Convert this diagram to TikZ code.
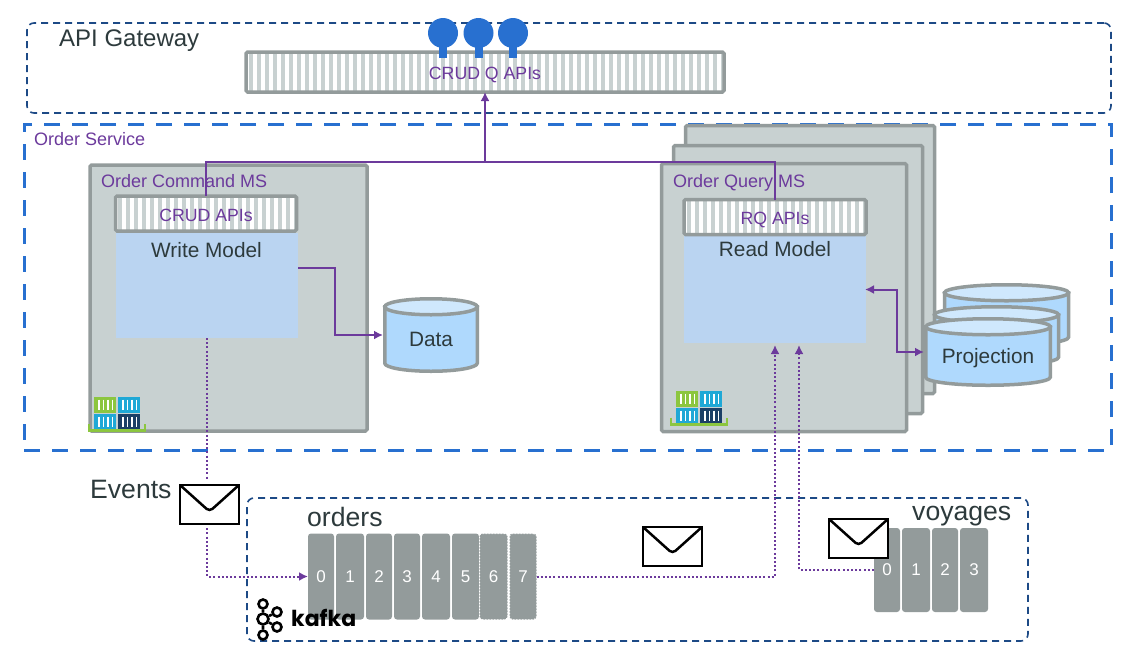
\documentclass[tikz,border=0pt]{standalone}
\usepackage{xcolor}
\usepackage{fontspec}
\setmainfont{Liberation Sans}
\newfontfamily\kafkafont{Poppins}
\usetikzlibrary{shapes.geometric, arrows.meta, positioning, calc}

\definecolor{flowpurple}{HTML}{6C3A9C}
\definecolor{gatewayblue}{HTML}{1D4A86}
\definecolor{serviceblue}{HTML}{2870D0}
\definecolor{msfill}{HTML}{C8D1D1}
\definecolor{msborder}{HTML}{939B9B}
\definecolor{modelfill}{HTML}{BAD4F1}
\definecolor{dbfill}{HTML}{AFD9FD}
\definecolor{dbtop}{HTML}{CFE8FD}
\definecolor{labeldark}{HTML}{2D3A3C}
\definecolor{boxgreen}{HTML}{8CC63F}
\definecolor{boxcyan}{HTML}{1FA8D6}
\definecolor{boxnavy}{HTML}{1B3F66}

\tikzset{
    msbox/.style={draw=msborder, fill=msfill, line width=3.5pt, rounded corners=1.5pt, inner sep=0pt, outer sep=0pt},
    apibox/.style={draw=msborder, fill=white, line width=3.5pt, rounded corners=1.5pt, inner sep=0pt, outer sep=0pt,
        text=flowpurple, font=\fontsize{17.7}{20}\selectfont, text height=15.5pt, text depth=0pt,
        path picture={
            \foreach \s in {0,...,60} {
                \fill[msfill, sharp corners] ([xshift=\s*8pt+2.5pt]path picture bounding box.south west) rectangle ++(4.4,-60);
            }
        }},
    modelbox/.style={fill=modelfill, inner sep=0pt, outer sep=0pt},
    dbline/.style={draw=msborder, line width=3.5pt},
    dbtext/.style={inner sep=0pt, outer sep=1.75pt, text=labeldark, font=\fontsize{20.8}{24}\selectfont},
    partbox/.style={fill=msborder, rounded corners=3pt, text=white, inner sep=0pt, outer sep=0pt,
        font=\fontsize{17}{20}\selectfont, minimum height=86pt},
    envelope/.style={draw=black, fill=white, line width=2.5pt, inner sep=0pt, outer sep=1.25pt,
        minimum width=59pt, minimum height=39pt,
        path picture={
            \draw[black, line width=2.5pt, rounded corners=4pt]
                (path picture bounding box.north west) -- ($(path picture bounding box.center)+(0,-7pt)$)
                -- (path picture bounding box.north east);
        }},
    flow/.style={draw=flowpurple, line width=2pt, -{Latex[length=9pt, width=9pt]}},
    flowbus/.style={draw=flowpurple, line width=2pt},
    eventflow/.style={draw=flowpurple, line width=2pt, dash pattern=on 2pt off 2.2pt},
    title/.style={anchor=base west, inner sep=0pt, text=flowpurple, font=\fontsize{18}{20}\selectfont},
    biglabel/.style={anchor=base west, inner sep=0pt, text=labeldark, font=\fontsize{26.6}{30}\selectfont},
    modellabel/.style={inner sep=0pt, text=labeldark, font=\fontsize{20.8}{24}\selectfont},
    kafkadot/.style={circle, draw=black, line width=2.6pt, inner sep=0pt, minimum size=#1},
    containers/.pic={
        \foreach \cx/\cy/\cc in {0/0/boxgreen, 24/0/boxcyan, 0/17/boxcyan, 24/17/boxnavy} {
            \fill[\cc] (\cx,\cy) rectangle ++(22,15.5);
            \foreach \w in {5,9.5,14,18.5} {
                \draw[white, line width=1.2pt] (\cx+\w,\cy+2.5) -- ++(0,10.5);
            }
        }
        \draw[boxgreen, line width=2.5pt] (-5,26.5) -- (-5,33.5) -- (51,33.5) -- (51,26.5);
    }
}

% name, centre x, centre y, width, height, text
\newcommand{\dbcan}[6]{
    \draw[dbline, fill=dbfill] (#2-#4/2,#3-#5/2+8) -- (#2-#4/2,#3+#5/2-8)
        arc[start angle=180, end angle=0, x radius=#4/2, y radius=8] -- (#2+#4/2,#3-#5/2+8) -- cycle;
    \draw[dbline, fill=dbtop] (#2,#3-#5/2+8) ellipse[x radius=#4/2, y radius=8];
    \node[dbtext, minimum width=#4 pt, minimum height=#5 pt] (#1) at (#2,#3) {\raisebox{-11.5pt}[0pt][0pt]{#6}};
}

\begin{document}
\begin{tikzpicture}[x=1pt, y=-1pt]
    \useasboundingbox (0,0) rectangle (1148,670);

    % Dashed zones
    \node[draw=gatewayblue, line width=1.6pt, dash pattern=on 7pt off 5pt, rounded corners=7pt, inner sep=0pt,
        minimum width=1084pt, minimum height=90pt] (gateway) at (569,68) {};
    \node[draw=serviceblue, line width=3pt, dash pattern=on 16pt off 12pt, inner sep=0pt,
        minimum width=1087pt, minimum height=326pt] (service) at (567.5,287) {};
    \node[draw=gatewayblue, line width=1.6pt, dash pattern=on 7pt off 5pt, rounded corners=7pt, inner sep=0pt,
        minimum width=781pt, minimum height=143pt] (kafkazone) at (637.5,569.5) {};

    \node[biglabel, font=\fontsize{24}{28}\selectfont] (gatewaylabel) at (59,46) {API Gateway};
    \node[title] (servicelabel) at (34,145) {Order Service};

    % API bar and its endpoints
    \node[apibox, minimum width=478pt, minimum height=40pt] (apibar) at (485,72) {CRUD Q APIs};
    \foreach \n/\x in {a/443, b/478.5, c/513} {
        \fill[serviceblue] (\x-4,40) rectangle (\x+4,58);
        \node[circle, fill=serviceblue, minimum size=30pt, inner sep=0pt] (lolly\n) at (\x,33) {};
    }

    % Command side
    \node[msbox, minimum width=277pt, minimum height=266pt] (commandms) at (228.5,298) {};
    \node[title] (commandlabel) at (101,187) {Order Command MS};
    \node[modelbox, minimum width=182pt, minimum height=105pt] (writemodel) at (207,285.5) {};
    \node[apibox, minimum width=181pt, minimum height=35pt] (crudapi) at (206,213.5) {CRUD APIs};
    \node[modellabel] (writelabel) at (206.5,250) {Write Model};
    \pic at (94,397) {containers};
    \dbcan{data}{431}{335}{92.5}{72.5}{Data}

    % Query side
    \node[msbox, minimum width=249pt, minimum height=268pt] (queryback) at (810,259.5) {};
    \node[msbox, minimum width=249pt, minimum height=268pt] (querymid) at (798,279.5) {};
    \node[msbox, minimum width=245pt, minimum height=268pt] (queryms) at (784,297.5) {};
    \node[title] (querylabel) at (673,187) {Order Query MS};
    \node[modelbox, minimum width=182pt, minimum height=107pt] (readmodel) at (775,289.5) {};
    \node[apibox, minimum width=182pt, minimum height=35pt] (rqapi) at (775,217) {RQ APIs};
    \node[modellabel] (readlabel) at (775,249) {Read Model};
    \pic at (676,391) {containers};
    \dbcan{projback}{1006.5}{315}{124}{60.5}{}
    \dbcan{projmid}{996.5}{336}{124}{58.5}{}
    \dbcan{projfront}{988}{352}{124.5}{66.5}{Projection}

    % Topics
    \node[biglabel] (orderslabel) at (307,526) {orders};
    \foreach \n/\x/\w in {0/321/26, 1/350/28, 2/379/26, 3/407/26, 4/436/28, 5/465.5/27} {
        \node[partbox, minimum width=\w pt] (order\n) at (\x,576.5) {\n};
    }
    \foreach \n/\x/\w in {6/493.5/28, 7/523/27} {
        \node[partbox, draw=white, dotted, line width=1pt, minimum width=\w pt] (order\n) at (\x,576.5) {\n};
    }
    \node[biglabel] (voyageslabel) at (912,520) {voyages};
    \foreach \n/\x/\w in {0/887/26, 1/916/28, 2/945/26, 3/974/28} {
        \node[partbox, minimum width=\w pt, minimum height=84pt] (voyage\n) at (\x,570) {\n};
    }

    % Kafka mark
    \node[kafkadot=9pt] (ka) at (263,604) {};
    \node[kafkadot=11pt] (kb) at (263,619) {};
    \node[kafkadot=9pt] (kc) at (263,635) {};
    \node[kafkadot=9pt] (kd) at (277,612) {};
    \node[kafkadot=9pt] (ke) at (277,627) {};
    \draw[line width=2.6pt] (ka) -- (kb) -- (kc) (kb) -- (kd) (kb) -- (ke);
    \node[anchor=base west, inner sep=0pt, font=\kafkafont\fontsize{22}{24}\selectfont\bfseries] (kafkaword) at (291,626) {kafka};

    % Messages
    \node[biglabel] (eventslabel) at (90,498) {Events};
    \node[envelope] (eventmail) at (209.5,504.5) {};
    \node[envelope] (ordermail) at (672.5,546.5) {};
    \node[envelope] (voyagemail) at (858.5,538.5) {};

    % API links
    \coordinate (bus) at (485,162);
    \draw[flowbus] (crudapi.north) |- (bus);
    \draw[flowbus] (rqapi.north) |- (bus);
    \draw[flow] (bus) -- (apibar.south);

    % Model to store
    \draw[flow] ([yshift=17.5pt]writemodel.east) -- ++(37,0) |- (data.west);
    \draw[flow, {Latex[length=9pt, width=9pt]}-{Latex[length=9pt, width=9pt]}, shorten <=-1pt] (readmodel.east) -- ++(31,0) |- (projfront.west);

    % Events
    \draw[eventflow, shorten >=3pt] (writemodel.south) -- (writemodel.south |- eventmail.north);
    \draw[eventflow, shorten <=3pt, -{Latex[length=9pt, width=9pt]}] (writemodel.south |- eventmail.south) |- (order0.west);
    \draw[eventflow, -{Latex[length=9pt, width=9pt]}] (order7.east) -| ([yshift=-2pt]readmodel.south);
    \draw[eventflow, -{Latex[length=9pt, width=9pt]}] (voyage0.west) -| ([xshift=24pt, yshift=-2pt]readmodel.south);
\end{tikzpicture}
\end{document}
